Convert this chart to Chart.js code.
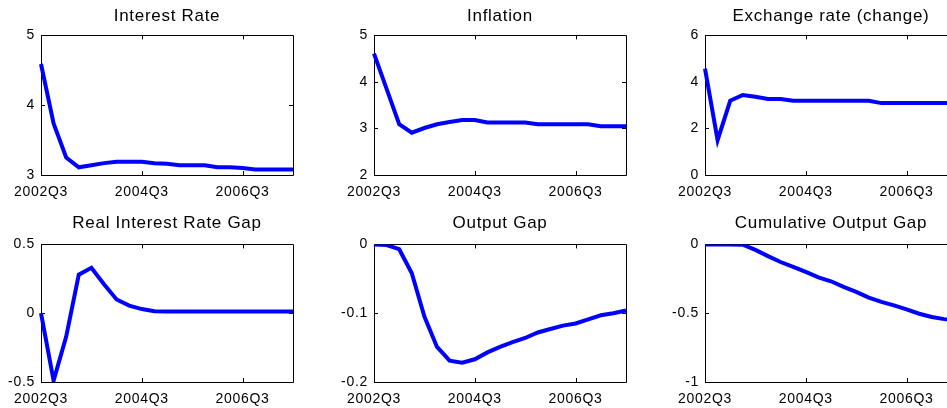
<!DOCTYPE html>
<html>
<head>
<meta charset="utf-8">
<script src="https://cdn.jsdelivr.net/npm/chart.js@4.4.1/dist/chart.umd.min.js"></script>
<style>
  html, body { margin: 0; padding: 0; background: #fff; }
  body { width: 947px; height: 408px; overflow: hidden; position: relative; }
  .panel { position: absolute; width: 302px; }
  .panel canvas { display: block; }
</style>
</head>
<body>
<div class="panel" style="left:1px;top:0px;height:205px"><canvas id="c1" width="302" height="205"></canvas></div>
<div class="panel" style="left:334px;top:0px;height:205px"><canvas id="c2" width="302" height="205"></canvas></div>
<div class="panel" style="left:665px;top:0px;height:205px"><canvas id="c3" width="302" height="205"></canvas></div>
<div class="panel" style="left:1px;top:209px;height:203px"><canvas id="c4" width="302" height="203"></canvas></div>
<div class="panel" style="left:334px;top:209px;height:203px"><canvas id="c5" width="302" height="203"></canvas></div>
<div class="panel" style="left:665px;top:209px;height:203px"><canvas id="c6" width="302" height="203"></canvas></div>

<script>
// quarters on the x axis
const quarters = ['2002Q3','2002Q4','2003Q1','2003Q2','2003Q3','2003Q4','2004Q1','2004Q2',
                  '2004Q3','2004Q4','2005Q1','2005Q2','2005Q3','2005Q4','2006Q1','2006Q2',
                  '2006Q3','2006Q4','2007Q1','2007Q2','2007Q3'];
const xTickLabels = ['2002Q3', '2004Q3', '2006Q3'];

// series
const interestRate = [4.59, 3.74, 3.25, 3.11, 3.14, 3.17, 3.19, 3.19, 3.19, 3.17, 3.16,
                      3.14, 3.14, 3.14, 3.11, 3.11, 3.10, 3.08, 3.08, 3.08, 3.08];
const inflation = [4.61, 3.85, 3.09, 2.91, 3.01, 3.09, 3.14, 3.18, 3.18, 3.13, 3.13,
                   3.13, 3.13, 3.09, 3.09, 3.09, 3.09, 3.09, 3.05, 3.05, 3.05];
const exchangeChange = [4.57, 1.50, 3.19, 3.44, 3.36, 3.27, 3.27, 3.19, 3.19, 3.19, 3.19,
                        3.19, 3.19, 3.19, 3.09, 3.09, 3.09, 3.09, 3.09, 3.09, 3.09];
const realRateGap = [0, -0.49, -0.17, 0.28, 0.33, 0.21, 0.10, 0.055, 0.03, 0.015, 0.012,
                     0.012, 0.012, 0.012, 0.012, 0.012, 0.012, 0.012, 0.012, 0.012, 0.012];
const outputGap = [0, -0.001, -0.007, -0.042, -0.105, -0.149, -0.169, -0.172, -0.167, -0.157, -0.149,
                   -0.142, -0.136, -0.128, -0.123, -0.118, -0.115, -0.109, -0.103, -0.100, -0.096];
const cumOutputGap = [0, 0, 0, -0.002, -0.04, -0.085, -0.128, -0.163, -0.2, -0.24, -0.268,
                      -0.309, -0.345, -0.387, -0.418, -0.443, -0.472, -0.504, -0.528, -0.543, -0.555];

// y tick labels per panel
const yTicksInterest = [3, 4, 5];
const yTicksInflation = [2, 3, 4, 5];
const yTicksExchange = [0, 2, 4, 6];
const yTicksRealGap = [-0.5, 0, 0.5];
const yTicksOutputGap = [-0.2, -0.1, 0];
const yTicksCumGap = [-1, -0.5, 0];

Chart.defaults.font.family = "'Liberation Sans', Arial, sans-serif";
Chart.defaults.color = '#000';

// matlab-like box with inward tick marks
const boxPlugin = {
    id: 'box',
    beforeDraw(chart) {
        chart.ctx.letterSpacing = '0.7px';
    },
    beforeDatasetsDraw(chart) {
        const ctx = chart.ctx;
        const a = chart.chartArea;
        const x = chart.scales.x, y = chart.scales.y;
        const t = 4;
        ctx.save();
        ctx.strokeStyle = '#000';
        ctx.lineWidth = 1;
        ctx.beginPath();
        ctx.rect(Math.round(a.left) + 0.5, Math.round(a.top) + 0.5,
                 Math.round(a.right - a.left), Math.round(a.bottom - a.top));
        x.ticks.forEach((tk, i) => {
            const px = Math.round(x.getPixelForTick(i)) + 0.5;
            ctx.moveTo(px, a.bottom); ctx.lineTo(px, a.bottom - t);
            ctx.moveTo(px, a.top); ctx.lineTo(px, a.top + t);
        });
        y.ticks.forEach((tk, i) => {
            const py = Math.round(y.getPixelForTick(i)) + 0.5;
            ctx.moveTo(a.left, py); ctx.lineTo(a.left + t, py);
            ctx.moveTo(a.right, py); ctx.lineTo(a.right - t, py);
        });
        ctx.stroke();
        ctx.restore();
    }
};

function makePanel(id, title, values, yTicks, titlePad) {
    const ctx = document.getElementById(id).getContext('2d');
    new Chart(ctx, {
        type: 'line',
        data: {
            labels: quarters,
            datasets: [{
                data: values,
                borderColor: '#0000ff',
                borderWidth: 4,
                pointRadius: 0,
                tension: 0,
                fill: false
            }]
        },
        options: {
            responsive: false,
            animation: false,
            devicePixelRatio: 1,
            layout: { padding: { left: 0, right: 10, top: 0, bottom: 0 } },
            plugins: {
                legend: { display: false },
                tooltip: { enabled: false },
                title: {
                    display: true,
                    text: title,
                    color: '#000',
                    fullSize: false,   // centre over the plot box, not the canvas
                    font: { size: 17, weight: 'normal' },
                    padding: titlePad
                }
            },
            scales: {
                x: {
                    type: 'category',
                    offset: false,
                    grid: { display: false, drawTicks: false },
                    border: { display: false },
                    ticks: { autoSkip: false, maxRotation: 0, padding: 9, font: { size: 14 } },
                    afterBuildTicks: s => {
                        s.ticks = s.ticks.filter(tk => xTickLabels.includes(quarters[tk.value]));
                    },
                    afterFit: s => { s.height = 30; }
                },
                y: {
                    min: yTicks[0],
                    max: yTicks[yTicks.length - 1],
                    grid: { display: false, drawTicks: false },
                    border: { display: false },
                    ticks: { padding: 6, font: { size: 14 }, callback: v => String(v) },
                    afterBuildTicks: s => {
                        s.ticks = yTicks.map(v => ({ value: v }));
                    },
                    afterFit: s => { s.width = 40; }
                }
            }
        },
        plugins: [boxPlugin]
    });
}

const topPad = { top: 6, bottom: 9 };
const botPad = { top: 4, bottom: 11 };

makePanel('c1', 'Interest Rate', interestRate, yTicksInterest, topPad);
makePanel('c2', 'Inflation', inflation, yTicksInflation, topPad);
makePanel('c3', 'Exchange rate (change)', exchangeChange, yTicksExchange, topPad);
makePanel('c4', 'Real Interest Rate Gap', realRateGap, yTicksRealGap, botPad);
makePanel('c5', 'Output Gap', outputGap, yTicksOutputGap, botPad);
makePanel('c6', 'Cumulative Output Gap', cumOutputGap, yTicksCumGap, botPad);
</script>
</body>
</html>
